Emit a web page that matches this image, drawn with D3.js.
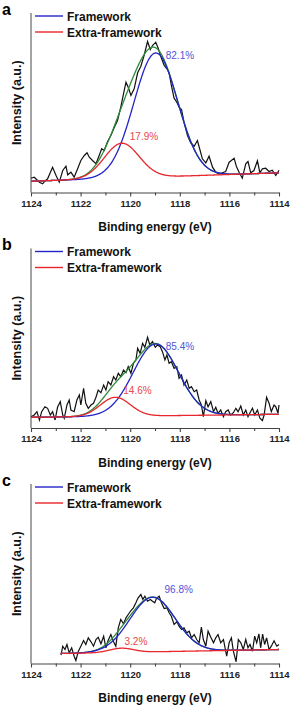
<!DOCTYPE html>
<html>
<head>
<meta charset="utf-8">
<script src="https://cdn.jsdelivr.net/npm/d3@7"></script>
<style>
  body { margin: 0; background: #fff; }
  svg { display: block; font-family: Arial, "Liberation Sans", sans-serif; }
</style>
</head>
<body>
<div id="chart"></div>
<script>
// panel letters and percentages
const panelLabels = ['a', 'b', 'c'];
const frameworkPct = ['82.1%', '85.4%', '96.8%'];
const extraPct = ['17.9%', '14.6%', '3.2%'];
const majorTicks = [1124, 1122, 1120, 1118, 1116, 1114];
const minorTicks = [1123, 1121, 1119, 1117, 1115];

// fit parameters (intensity in a.u.)
const fitStart = [1124, 1124, 1122.8];
const baseStart = [11.3, 10.7, 10];
const baseEnd = [19.7, 13.7, 14];
const frameworkCenter = [1118.97, 1118.97, 1119.1];
const frameworkHeight = [124, 71.8, 54.6];
const frameworkWidth = [0.88, 0.91, 0.91];
const extraCenter = [1120.34, 1120.6, 1120.35];
const extraHeight = [34.9, 19, 4.2];
const extraWidth = [0.7, 0.6, 0.48];

// measured spectra
const energyA = [1124.00,1123.87,1123.66,1123.53,1123.44,1123.33,1123.13,1122.99,1122.86,1122.72,1122.59,1122.52,1122.39,1122.26,1122.12,1121.99,1121.85,1121.74,1121.65,1121.52,1121.38,1121.25,1121.15,1121.05,1120.91,1120.78,1120.64,1120.51,1120.38,1120.27,1120.17,1120.08,1119.97,1119.84,1119.70,1119.57,1119.44,1119.30,1119.19,1119.10,1118.97,1118.87,1118.77,1118.63,1118.52,1118.43,1118.34,1118.23,1118.12,1118.03,1117.93,1117.83,1117.69,1117.56,1117.42,1117.29,1117.18,1117.09,1116.95,1116.82,1116.68,1116.55,1116.42,1116.28,1116.15,1116.01,1115.92,1115.81,1115.72,1115.61,1115.48,1115.34,1115.25,1115.14,1115.01,1114.87,1114.77,1114.67,1114.54,1114.40,1114.27,1114.13,1114.00];
const countsA = [14.3,15.3,10.3,8.7,11.3,13.7,25.3,17.0,10.3,22.0,26.3,17.7,20.3,15.3,23.7,32.0,37.0,39.7,35.3,32.0,28.7,37.0,43.7,42.0,51.0,57.0,65.3,72.0,85.3,98.7,110.3,105.3,97.0,103.7,119.7,126.3,137.0,151.0,143.0,147.0,150.3,144.3,136.3,127.0,123.7,119.7,107.0,94.3,90.3,85.3,83.0,70.3,57.0,49.7,46.3,52.0,42.0,33.7,29.7,36.3,25.3,20.3,18.3,19.7,21.0,30.3,32.0,34.3,26.3,20.3,14.3,28.7,31.0,19.7,22.0,31.7,19.7,23.7,24.3,21.0,22.3,17.0,22.3];

const energyB = [1124.00,1123.87,1123.76,1123.66,1123.57,1123.44,1123.33,1123.22,1123.13,1123.03,1122.93,1122.82,1122.72,1122.66,1122.55,1122.46,1122.39,1122.26,1122.15,1122.05,1121.99,1121.88,1121.79,1121.69,1121.58,1121.48,1121.38,1121.29,1121.18,1121.07,1120.98,1120.89,1120.78,1120.67,1120.58,1120.48,1120.38,1120.27,1120.17,1120.08,1119.97,1119.87,1119.77,1119.70,1119.60,1119.50,1119.41,1119.30,1119.21,1119.10,1118.99,1118.90,1118.79,1118.70,1118.60,1118.52,1118.43,1118.34,1118.23,1118.12,1118.03,1117.93,1117.83,1117.72,1117.62,1117.53,1117.42,1117.32,1117.22,1117.13,1117.05,1116.95,1116.86,1116.75,1116.64,1116.55,1116.46,1116.35,1116.24,1116.15,1116.05,1115.95,1115.84,1115.74,1115.65,1115.54,1115.44,1115.34,1115.25,1115.17,1115.07,1114.98,1114.87,1114.77,1114.67,1114.60,1114.50,1114.40,1114.31,1114.20,1114.13,1114.04,1114.00];
const countsB = [11.3,13.0,16.3,8.0,16.3,21.3,19.7,13.0,16.3,8.0,20.7,26.3,13.0,9.7,23.0,28.0,18.0,16.3,28.0,33.0,23.0,39.7,24.7,19.7,23.0,24.7,30.7,38.0,35.3,43.0,38.0,46.3,43.0,51.3,48.0,54.7,51.3,58.0,55.3,61.3,54.7,64.7,68.0,79.7,74.7,84.7,80.7,90.7,83.0,86.3,80.7,83.0,81.3,76.3,68.0,73.0,64.7,66.3,59.7,61.3,49.7,53.0,43.0,48.0,39.7,41.3,36.3,38.0,28.0,23.0,11.3,27.3,21.3,26.3,16.3,20.7,14.7,18.0,11.3,16.3,18.0,13.0,15.3,19.7,16.3,22.0,13.0,18.0,11.3,15.3,19.7,13.0,18.0,9.7,7.3,13.0,30.7,24.7,16.3,23.0,21.3,14.7,23.0];

const energyC = [1122.79,1122.72,1122.63,1122.55,1122.46,1122.36,1122.26,1122.19,1122.09,1121.99,1121.88,1121.79,1121.69,1121.58,1121.48,1121.38,1121.29,1121.18,1121.07,1120.98,1120.89,1120.78,1120.67,1120.58,1120.48,1120.38,1120.27,1120.17,1120.08,1119.97,1119.87,1119.77,1119.68,1119.57,1119.49,1119.41,1119.30,1119.19,1119.10,1119.01,1118.93,1118.83,1118.74,1118.63,1118.52,1118.43,1118.34,1118.23,1118.12,1118.03,1117.93,1117.83,1117.72,1117.62,1117.53,1117.42,1117.32,1117.22,1117.13,1117.05,1116.95,1116.86,1116.75,1116.64,1116.55,1116.46,1116.35,1116.24,1116.11,1116.01,1115.92,1115.84,1115.73,1115.64,1115.54,1115.44,1115.34,1115.25,1115.17,1115.07,1114.98,1114.90,1114.81,1114.74,1114.66,1114.58,1114.50,1114.40,1114.31,1114.20,1114.09,1114.00];
const countsC = [8.3,17.3,14.0,19.0,10.7,15.7,7.3,3.0,12.3,17.3,23.0,19.0,25.7,21.7,17.3,24.0,26.3,19.7,27.3,15.7,23.0,29.0,21.7,17.3,35.7,44.0,39.7,45.7,49.0,53.0,55.7,60.7,65.7,69.0,64.0,67.3,62.3,64.0,62.3,60.7,65.7,67.3,60.7,55.0,55.7,50.7,47.3,39.0,41.7,37.3,34.0,35.7,30.7,32.3,25.7,29.0,24.0,20.7,36.3,24.0,17.3,32.3,26.3,20.7,25.7,29.0,20.7,24.0,7.3,20.7,25.7,12.3,1.7,24.0,20.7,14.0,24.0,15.7,19.0,12.3,27.3,20.7,29.7,15.7,29.3,19.0,25.7,14.0,17.3,22.7,17.3,19.0];

const energies = [energyA, energyB, energyC];
const counts = [countsA, countsB, countsC];

const width = 292, height = 705;
const panelTop = [0, 235.5, 471];
const margin = { left: 31, right: 279, axis: 192.5, top: 13 };

const svg = d3.select('#chart').append('svg')
    .attr('width', width)
    .attr('height', height);

const x = d3.scaleLinear().domain([1124, 1114]).range([margin.left, margin.right]);

panelLabels.forEach((label, i) => {
    const g = svg.append('g').attr('transform', `translate(0,${panelTop[i]})`);
    const y = d3.scaleLinear().domain([0, 180]).range([margin.axis, margin.axis - 180]);

    const base = e => baseStart[i] + (baseEnd[i] - baseStart[i]) * (fitStart[i] - e) / (fitStart[i] - 1114);
    const peak = (e, c, h, s) => h * Math.exp(-((e - c) ** 2) / (2 * s * s));
    const fw = e => peak(e, frameworkCenter[i], frameworkHeight[i], frameworkWidth[i]);
    const ex = e => peak(e, extraCenter[i], extraHeight[i], extraWidth[i]);

    // energies along the fitted curves
    const grid = d3.range(fitStart[i], 1113.99, -0.02);

    const line = d3.line().x(d => x(d[0])).y(d => y(d[1]));

    // axes
    g.append('line')
        .attr('x1', margin.left).attr('x2', margin.left)
        .attr('y1', margin.top).attr('y2', margin.axis)
        .attr('stroke', '#666').attr('stroke-width', 1.2);

    const xAxis = g.append('g')
        .attr('transform', `translate(0,${margin.axis})`)
        .call(d3.axisBottom(x).tickValues(majorTicks).tickFormat(d3.format('d')).tickSize(4).tickSizeOuter(0));
    xAxis.select('.domain').attr('stroke', '#444').attr('stroke-width', 1.2);
    xAxis.selectAll('.tick line').attr('stroke', '#444').attr('stroke-width', 1.1);
    xAxis.selectAll('.tick text')
        .attr('y', 7.5)
        .attr('font-size', 9.5)
        .attr('font-weight', 'bold')
        .attr('font-family', 'Arial, "Liberation Sans", sans-serif')
        .attr('fill', '#222');

    const minor = g.append('g')
        .attr('transform', `translate(0,${margin.axis})`)
        .call(d3.axisBottom(x).tickValues(minorTicks).tickFormat('').tickSize(3));
    minor.select('.domain').remove();
    minor.selectAll('.tick line').attr('stroke', '#444').attr('stroke-width', 1.1);

    // spectrum
    g.append('path')
        .datum(energies[i].map((e, k) => [e, counts[i][k]]))
        .attr('d', line)
        .attr('fill', 'none')
        .attr('stroke', '#111')
        .attr('stroke-width', 1.2);

    // fits: envelope, framework, extra-framework
    g.append('path')
        .datum(grid.map(e => [e, base(e) + fw(e) + ex(e)]))
        .attr('d', line)
        .attr('fill', 'none').attr('stroke', '#2e8b3a').attr('stroke-width', 1.3);
    g.append('path')
        .datum(grid.map(e => [e, base(e) + fw(e)]))
        .attr('d', line)
        .attr('fill', 'none').attr('stroke', '#2424c8').attr('stroke-width', 1.3);
    g.append('path')
        .datum(grid.map(e => [e, base(e) + ex(e)]))
        .attr('d', line)
        .attr('fill', 'none').attr('stroke', '#e8262b').attr('stroke-width', 1.3);

    // percentages
    const fwTop = base(frameworkCenter[i]) + frameworkHeight[i];
    const exTop = base(extraCenter[i]) + extraHeight[i];
    g.append('text')
        .attr('x', x(frameworkCenter[i]) + 10 + (i === 2 ? 2 : 0))
        .attr('y', i === 2 ? y(fwTop) - 4 : y(fwTop) + 6)
        .attr('font-size', 10)
        .attr('fill', '#5252d8')
        .text(frameworkPct[i]);
    g.append('text')
        .attr('x', x(extraCenter[i]) + 8 - (i === 2 ? 5 : 0))
        .attr('y', y(exTop) - 3)
        .attr('font-size', 10)
        .attr('fill', '#e8474b')
        .text(extraPct[i]);

    // legend
    const legend = [['Framework', '#2424c8'], ['Extra-framework', '#e8262b']];
    legend.forEach((d, k) => {
        g.append('line')
            .attr('x1', 35).attr('x2', 63)
            .attr('y1', 16 + k * 16).attr('y2', 16 + k * 16)
            .attr('stroke', d[1]).attr('stroke-width', 1.4);
        g.append('text')
            .attr('x', 67).attr('y', 20.5 + k * 16)
            .attr('font-size', 12)
            .attr('font-weight', 'bold')
            .attr('fill', '#111')
            .text(d[0]);
    });

    // titles
    g.append('text')
        .attr('x', 2).attr('y', 14.5)
        .attr('font-size', 16)
        .attr('font-weight', 'bold')
        .text(label);
    g.append('text')
        .attr('transform', `translate(20.5,${(margin.top + margin.axis) / 2}) rotate(-90)`)
        .attr('text-anchor', 'middle')
        .attr('font-size', 12.5)
        .attr('font-weight', 'bold')
        .attr('fill', '#111')
        .text('Intensity (a.u.)');
    g.append('text')
        .attr('x', (margin.left + margin.right) / 2)
        .attr('y', margin.axis + 38.5)
        .attr('text-anchor', 'middle')
        .attr('font-size', 12)
        .attr('font-weight', 'bold')
        .attr('fill', '#111')
        .text('Binding energy (eV)');
});
</script>
</body>
</html>
